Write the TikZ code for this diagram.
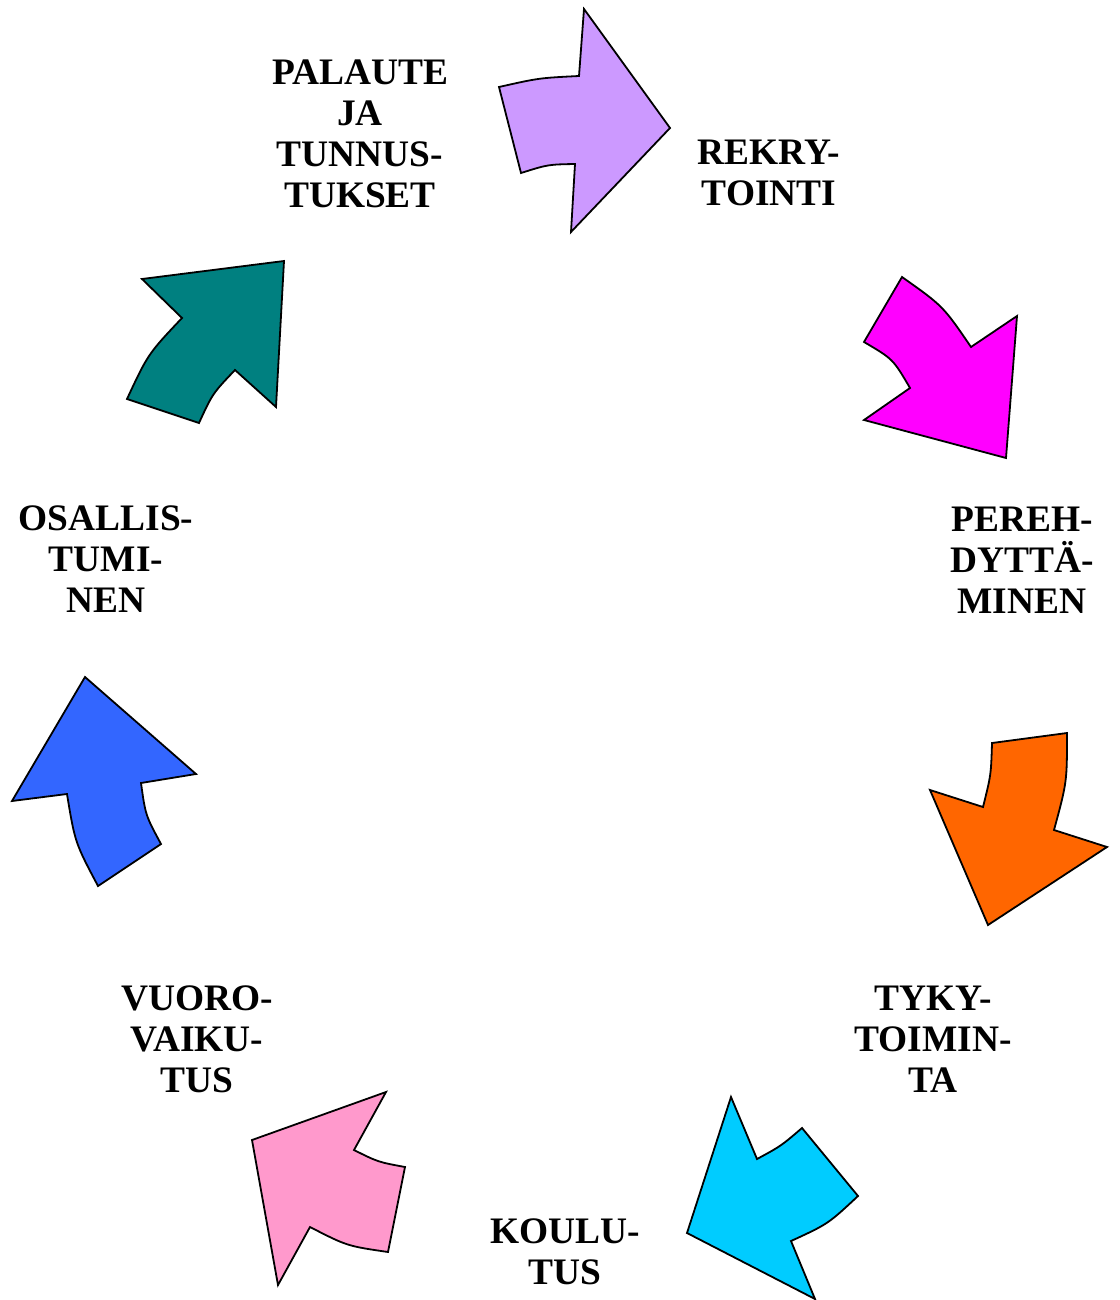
\documentclass[tikz,border=0pt]{standalone}
\usepackage{fontspec}
\setmainfont{Liberation Serif}
\definecolor{lilac}{HTML}{CC99FF}
\definecolor{fuchsia}{HTML}{FF00FF}
\definecolor{tangerine}{HTML}{FF6600}
\definecolor{skyblue}{HTML}{00CCFF}
\definecolor{rosepink}{HTML}{FF99CC}
\definecolor{royalblue}{HTML}{3366FF}
\definecolor{tealgreen}{HTML}{008080}
\tikzset{
  cyclearrow/.style={draw=black,line width=1.8pt,line join=miter},
  phase/.style={font=\fontsize{37.4}{41}\selectfont\bfseries,
                align=center,inner sep=0pt}
}

\begin{document}
\begin{tikzpicture}[x=1pt,y=-1pt]
  \path[use as bounding box] (0,0) rectangle (1119,1300);

  % curved block arrows, clockwise from the top
  \draw[cyclearrow,fill=lilac] (499,87) .. controls (539,78) .. (579,76)
    -- (584,9) -- (670,128) -- (571,232) -- (575,164)
    .. controls (548,164.5) .. (521,173) -- cycle;
  \draw[cyclearrow,fill=fuchsia] (902,277) .. controls (943,306) .. (971,347)
    -- (1017,316) -- (1006,458) -- (864,420) -- (910,388)
    .. controls (893,359) .. (864,342) -- cycle;
  \draw[cyclearrow,fill=tangerine] (992,743) -- (1067,733)
    .. controls (1067,782) .. (1054,830) -- (1107,847) -- (988,925)
    -- (930,790) -- (983,807) .. controls (991,775) .. (992,743) -- cycle;
  \draw[cyclearrow,fill=skyblue] (731,1097) -- (757,1159)
    .. controls (781,1146) .. (802,1128) -- (858,1196)
    .. controls (828,1224) .. (791,1241) -- (815,1299) -- (687,1233) -- cycle;
  \draw[cyclearrow,fill=rosepink] (386,1092) -- (354,1150)
    .. controls (378,1162) .. (405,1167) -- (388,1252)
    .. controls (347,1246) .. (310,1227) -- (278,1285) -- (252,1140) -- cycle;
  \draw[cyclearrow,fill=royalblue] (85,677) -- (196,774) -- (141,783)
    .. controls (145.5,815.3) .. (161,844) -- (98,886)
    .. controls (75,842.6) .. (67,794) -- (12,801) -- cycle;
  \draw[cyclearrow,fill=tealgreen] (284,261) -- (276,407) -- (235,370)
    .. controls (212.6,393.5) .. (199,423) -- (127,399)
    .. controls (148,354) .. (182,318) -- (142,279) -- cycle;

  % phase names
  \node[phase] (palaute) at (360,134) {PALAUTE\\JA\\TUNNUS-\\TUKSET};
  \node[phase] (rekry) at (769,173) {REKRY-\\TOINTI};
  \node[phase] (pereh) at (1022,560) {PEREH-\\DYTTÄ-\\MINEN};
  \node[phase] (tyky) at (933,1039) {TYKY-\\TOIMIN-\\TA};
  \node[phase] (koulu) at (565,1252) {KOULU-\\TUS};
  \node[phase] (vuoro) at (197,1039) {VUORO-\\VAIKU-\\TUS};
  \node[phase] (osallis) at (106,559) {OSALLIS-\\TUMI-\\NEN};
\end{tikzpicture}
\end{document}
